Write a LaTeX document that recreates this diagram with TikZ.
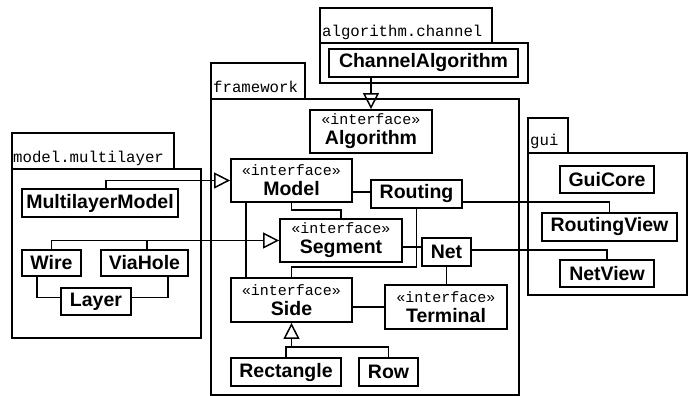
\documentclass[tikz,border=0pt]{standalone}
\usepackage{fontspec}
\setmainfont{Liberation Sans}
\newfontfamily\pkgmono{Liberation Mono}
\usepackage{tikz}
\usetikzlibrary{arrows.meta}

\newcommand\clsfont{\fontsize{19.5}{20}\selectfont\bfseries}
\newcommand\pkgfont{\pkgmono\fontsize{15.7}{18}\selectfont}
\newcommand\stereo{{\pkgmono\mdseries\fontsize{15}{20}\selectfont «interface»}}

\begin{document}
\begin{tikzpicture}[x=1pt, y=-1pt,
    cls/.style={draw, line width=1.8pt, fill=white, inner sep=0pt, font=\clsfont},
    iface/.style={cls, align=center},
    pkg/.style={draw, line width=1.3pt},
    pkglabel/.style={anchor=base west, inner sep=0pt, font=\pkgfont},
    conn/.style={line width=1.5pt},
    inh/.style={conn, -{Triangle[open, length=16pt, width=16pt]}}]

    \useasboundingbox (0,0) rectangle (697,396);

    % Pakete
    \draw[pkg] (12,133) rectangle (174,169);   % model.multilayer
    \draw[pkg] (12,169) rectangle (201,338);
    \node[pkglabel] (multilayerLabel) at (13,162) {model.multilayer};

    \draw[pkg] (320,8) rectangle (492,43);     % algorithm.channel
    \draw[pkg] (320,43) rectangle (528,83);
    \node[pkglabel] (channelLabel) at (322,37) {algorithm.channel};

    \draw[pkg] (211,63) rectangle (305,99);    % framework
    \draw[pkg] (211,99) rectangle (519,395);
    \node[pkglabel] (frameworkLabel) at (213,93) {framework};

    \draw[pkg] (528,118) rectangle (568,153);  % gui
    \draw[pkg] (528,153) rectangle (687,295);
    \node[pkglabel] (guiLabel) at (530,146) {gui};

    % model.multilayer
    \node[cls, minimum width=156pt, minimum height=28pt] (multilayerModel) at (100,203) {MultilayerModel};
    \node[cls, minimum width=59pt, minimum height=26pt] (wire) at (51.5,263) {Wire};
    \node[cls, minimum width=87pt, minimum height=26pt] (viaHole) at (144.5,263) {ViaHole};
    \node[cls, minimum width=70pt, minimum height=27pt] (layer) at (96,301.5) {Layer};

    % algorithm.channel
    \node[cls, minimum width=189pt, minimum height=28pt] (channelAlgorithm) at (423.5,63) {ChannelAlgorithm};

    % framework
    \node[iface, minimum width=122pt, minimum height=43pt] (algorithm) at (371,131.5) {\stereo\\Algorithm};
    \node[iface, minimum width=121pt, minimum height=43pt] (model) at (291.5,180.5) {\stereo\\Model};
    \node[cls, minimum width=91pt, minimum height=28pt] (routing) at (416.5,194) {Routing};
    \node[iface, minimum width=122pt, minimum height=43pt] (segment) at (341,240.5) {\stereo\\Segment};
    \node[cls, minimum width=49pt, minimum height=28pt] (net) at (446.5,252) {Net};
    \node[iface, minimum width=121pt, minimum height=44pt] (side) at (291.5,300) {\stereo\\Side};
    \node[iface, minimum width=122pt, minimum height=44pt] (terminal) at (446,307) {\stereo\\Terminal};
    \node[cls, minimum width=110pt, minimum height=28pt] (rectangle) at (286,372) {Rectangle};
    \node[cls, minimum width=59pt, minimum height=28pt] (row) at (388.5,372) {Row};

    % gui
    \node[cls, minimum width=94pt, minimum height=27pt] (guiCore) at (607,179.5) {GuiCore};
    \node[cls, minimum width=135pt, minimum height=28pt] (routingView) at (609.5,227) {RoutingView};
    \node[cls, minimum width=94pt, minimum height=27pt] (netView) at (607,273.5) {NetView};

    % Vererbung
    \draw[inh] ([xshift=6pt]multilayerModel.north) |- (model.west);
    \draw[inh] (wire.north) |- (segment.west);
    \draw[conn] ([xshift=2.5pt]viaHole.north) -- ([xshift=2.5pt]viaHole.north |- segment.west);
    \draw[inh] (channelAlgorithm.south -| algorithm.north) -- (algorithm.north);
    \coordinate (sideFork) at ([yshift=10pt]rectangle.north);
    \draw[conn] (rectangle.north) -- (sideFork) -| (row.north);
    \draw[inh] (sideFork -| side.south) -- (side.south);

    % Assoziationen
    \draw[conn] ([xshift=-14.5pt]wire.south) |- ([yshift=4pt]layer.west);
    \draw[conn] ([xshift=23.5pt]viaHole.south) |- ([yshift=4pt]layer.east);
    \draw[conn] ([yshift=2pt]routing.west) -- ([yshift=2pt]routing.west -| model.east);
    \draw[conn] (model.south) -- ++(0,7) -| (segment.north);
    \draw[conn] ([xshift=-45.5pt]model.south) -- ([xshift=-45.5pt]side.north);
    \draw[conn] ([yshift=5pt]net.west) -- ([yshift=5pt]net.west -| segment.east);
    \draw[conn] (routing.south) |- ([yshift=10pt]side.north) -- (side.north);
    \draw[conn] (terminal.west) -- (terminal.west -| side.east);
    \draw[conn] (net.south) -- (net.south |- terminal.north);
    \draw[conn] ([yshift=-8pt]routing.east) -| (routingView.north);
    \draw[conn] ([yshift=2pt]net.east) -| (netView.north);

\end{tikzpicture}
\end{document}
